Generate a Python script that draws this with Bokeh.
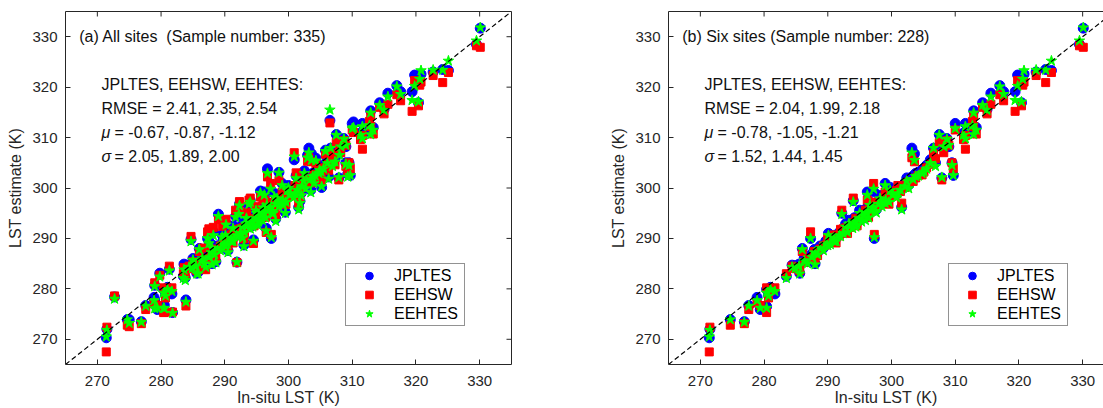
import math
from bokeh.plotting import figure
from bokeh.layouts import row
from bokeh.models import Range1d, LinearAxis, FixedTicker, Label, Legend, LegendItem
from bokeh.embed import file_html
from bokeh.resources import INLINE

tick_values = [270, 280, 290, 300, 310, 320, 330]
axis_limits = [265, 335]
one_to_one = [265, 335]

series_names = ["JPLTES", "EEHSW", "EEHTES"]
series_colors = ["#0000ff", "#ff0000", "#00ff00"]

# ---- six sites (panel b), in-situ LST and the three estimates ----
six_insitu = [
    330.1, 329.5, 325.1, 324.2, 322.7, 320.8, 320.6, 319.4, 320.4, 319.8,
    317.0, 317.6, 315.6, 314.3, 312.9, 315.0, 310.0, 311.6, 312.7, 311.3,
    312.9, 309.7, 309.5, 308.7, 309.0, 307.5, 307.9, 306.6, 308.2, 303.2,
    303.6, 299.0, 297.2, 296.2, 294.0, 292.2, 290.1, 287.3, 286.0, 284.4,
    285.6, 283.5, 288.0, 297.3, 271.5, 271.4, 274.7, 276.9, 277.6, 278.9,
    279.4, 280.4, 280.4, 281.0, 281.7, 280.7, 311.6, 313.3, 301.6,
    284.9, 285.5, 286.3, 286.8, 287.5, 287.9, 288.4, 288.8, 289.3, 289.7,
    290.4, 290.9, 291.3, 291.8, 292.4, 292.8, 293.1, 293.5, 293.9, 294.2,
    294.6, 294.9, 295.3, 295.7, 296.0, 296.4, 296.8, 297.1, 297.6, 298.0,
    298.5, 299.1, 299.6, 300.2, 300.8, 301.4, 302.1, 302.7, 303.4, 304.2,
    304.8, 305.5, 306.1, 306.9, 305.1,
    291.0, 292.0, 293.3, 294.4, 295.0, 295.9, 296.6, 297.4, 298.2, 299.0,
    299.8, 301.0, 302.4, 303.8, 290.0,
]
six_jpltes = [
    331.7, 328.5, 323.3, 323.5, 323.0, 322.6, 322.0, 319.1, 316.9, 322.4,
    320.3, 319.1, 318.8, 316.9, 315.3, 315.6, 312.8, 312.8, 311.8, 310.9,
    311.2, 302.5, 305.0, 309.8, 308.2, 310.6, 302.0, 307.9, 308.2, 307.9,
    306.8, 300.9, 299.3, 299.2, 297.5, 295.0, 291.0, 290.0, 288.0, 284.7,
    283.1, 282.5, 285.0, 290.0, 272.0, 270.3, 273.9, 273.5, 276.7, 278.3,
    275.9, 276.5, 279.9, 280.3, 279.0, 278.8, 310.5, 312.0, 296.2,
    284.6, 284.9, 286.1, 285.4, 286.9, 287.8, 287.2, 288.5, 288.1, 289.5,
    289.3, 290.6, 290.0, 291.2, 291.5, 292.9, 291.8, 293.0, 292.6, 294.1,
    293.2, 294.5, 294.0, 295.2, 295.9, 294.8, 296.1, 296.9, 295.7, 297.5,
    297.0, 298.2, 297.9, 299.3, 298.8, 300.2, 301.0, 300.6, 302.4, 303.1,
    303.6, 304.5, 305.6, 305.0, 303.9,
    289.8, 290.9, 293.6, 292.8, 295.6, 294.1, 297.2, 296.0, 298.5, 297.6,
    300.1, 299.4, 302.0, 302.9, 289.1,
]
six_eehsw = [
    327.9, 328.2, 322.9, 320.9, 322.3, 321.0, 320.4, 315.2, 316.3, 321.3,
    318.5, 317.3, 316.6, 316.0, 314.4, 314.7, 311.5, 310.4, 313.2, 309.6,
    312.2, 303.9, 305.0, 309.4, 308.5, 309.0, 301.6, 306.8, 307.0, 306.0,
    305.2, 299.2, 300.9, 297.6, 298.0, 295.6, 290.2, 291.3, 287.4, 284.5,
    283.6, 283.0, 285.9, 290.8, 272.4, 267.5, 272.8, 273.1, 275.9, 277.2,
    276.7, 275.3, 280.2, 279.6, 280.2, 278.2, 307.7, 310.7, 297.0,
    284.0, 284.2, 285.3, 285.9, 286.0, 287.4, 286.6, 287.9, 288.5, 288.7,
    289.9, 289.8, 289.1, 290.5, 291.9, 292.1, 291.0, 292.2, 293.1, 293.2,
    292.5, 293.7, 294.6, 294.3, 295.0, 294.2, 295.4, 296.0, 296.4, 296.6,
    297.5, 297.4, 296.8, 298.4, 299.5, 299.3, 300.1, 301.2, 301.3, 302.5,
    302.6, 304.0, 304.7, 305.8, 303.2,
    290.7, 291.8, 292.4, 294.0, 293.8, 295.6, 295.9, 297.2, 297.1, 298.4,
    298.9, 300.5, 300.9, 302.0, 290.0,
]
six_eehtes = [
    331.8, 329.2, 325.2, 323.4, 323.4, 323.3, 321.6, 317.4, 317.1, 320.2,
    320.1, 318.6, 318.1, 316.4, 314.9, 315.4, 311.8, 312.2, 312.4, 310.5,
    310.6, 302.5, 304.5, 309.7, 308.5, 310.5, 302.1, 307.9, 308.2, 307.0,
    305.5, 300.5, 299.8, 298.6, 297.2, 294.8, 290.6, 290.0, 287.8, 284.3,
    283.0, 282.1, 284.8, 290.2, 271.8, 270.5, 273.9, 273.4, 276.6, 277.7,
    276.2, 276.2, 279.2, 279.9, 279.5, 278.6, 309.8, 311.5, 295.7,
    284.1, 284.5, 285.6, 285.0, 286.3, 287.2, 286.8, 288.0, 287.6, 288.9,
    288.8, 290.1, 289.4, 290.6, 291.0, 292.3, 291.2, 292.5, 292.0, 293.4,
    292.7, 293.9, 293.3, 294.6, 295.2, 294.1, 295.5, 296.2, 295.1, 296.8,
    296.3, 297.6, 297.2, 298.6, 298.1, 299.6, 300.3, 299.9, 301.7, 302.4,
    302.9, 303.8, 304.9, 304.3, 303.2,
    289.4, 290.4, 292.9, 292.3, 295.0, 293.6, 296.6, 295.4, 297.9, 297.0,
    299.5, 298.9, 301.4, 302.3, 288.6,
]

# ---- remaining sites (only in panel a) ----
other_insitu = [
    306.5, 272.7, 284.7, 291.9, 279.8, 279.0, 281.3, 283.9, 280.5, 281.8,
    275.0, 283.8, 279.0, 289.0, 296.7, 298.5, 295.6, 292.3, 293.8, 291.7,
    294.9, 295.7, 290.2, 300.9, 309.3, 309.0, 303.0, 304.3, 310.2, 287.5,
    288.2, 286.5, 285.8, 287.0, 288.6, 290.5, 293.0, 294.5, 296.5, 298.0,
    299.5, 301.8, 303.5, 305.2, 306.3, 305.8, 304.9, 302.5, 300.0, 297.8,
    296.0, 293.4, 289.6, 288.0, 291.3, 295.2, 297.5, 299.2, 302.0, 304.0,
    307.3, 308.0, 301.2, 283.6, 285.0, 292.8, 294.0,
]
other_jpltes = [
    313.4, 278.4, 289.8, 285.3, 283.1, 280.7, 283.9, 277.8, 276.8, 275.3,
    273.9, 282.2, 277.8, 294.8, 303.8, 303.1, 299.4, 296.8, 296.2, 294.4,
    295.8, 294.6, 293.0, 305.6, 302.8, 305.0, 306.5, 305.9, 313.1, 289.5,
    291.3, 286.4, 283.3, 284.6, 285.4, 287.6, 288.7, 289.7, 292.0, 293.9,
    295.2, 297.4, 299.6, 300.1, 302.2, 307.5, 304.0, 303.4, 300.5, 298.9,
    296.6, 294.6, 290.7, 288.7, 292.5, 293.1, 295.3, 297.1, 299.0, 301.3,
    305.8, 306.9, 302.4, 284.9, 286.0, 290.5, 292.3,
]
other_eehsw = [
    312.9, 278.6, 290.4, 285.2, 282.7, 281.2, 284.5, 276.6, 275.3, 275.4,
    272.5, 282.6, 277.0, 293.8, 302.2, 301.5, 298.2, 297.3, 297.6, 295.6,
    296.3, 295.3, 293.8, 307.0, 303.2, 304.3, 305.3, 304.8, 311.0, 291.9,
    292.2, 288.1, 284.1, 283.8, 286.0, 288.5, 289.9, 289.0, 291.2, 294.7,
    296.8, 298.3, 301.0, 301.6, 303.5, 306.7, 302.0, 301.8, 299.0, 296.9,
    297.9, 295.2, 292.4, 287.2, 291.0, 294.0, 296.1, 298.2, 300.4, 302.7,
    304.6, 307.6, 303.0, 284.2, 285.4, 291.3, 293.1,
]
other_eehtes = [
    315.5, 278.0, 289.4, 285.3, 282.4, 280.5, 283.6, 277.4, 276.1, 275.2,
    273.2, 281.7, 276.1, 294.4, 302.9, 303.0, 299.0, 296.5, 296.8, 294.2,
    295.5, 294.9, 292.7, 306.2, 302.2, 304.7, 306.0, 305.4, 312.0, 289.0,
    290.6, 286.0, 283.0, 284.3, 285.2, 287.2, 288.4, 289.5, 291.5, 293.4,
    295.0, 297.0, 299.1, 300.3, 301.8, 307.3, 303.5, 302.9, 300.0, 298.2,
    296.1, 294.0, 290.3, 288.1, 292.0, 292.6, 294.9, 296.6, 298.5, 300.9,
    305.2, 306.5, 301.9, 283.8, 285.7, 290.1, 291.9,
]

panel_titles = ["(a) All sites \u00a0(Sample number: 335)", "(b) Six sites (Sample number: 228)"]
stats_header = "JPLTES, EEHSW, EEHTES:"
rmse_values = ["2.41, 2.35, 2.54", "2.04, 1.99, 2.18"]
mu_values = ["-0.67, -0.87, -1.12", "-0.78, -1.05, -1.21"]
sigma_values = ["2.05, 1.89, 2.00", "1.52, 1.44, 1.45"]
x_label = "In-situ LST (K)"
y_label = "LST estimate (K)"

FONT = "Liberation Sans"
AXC = "#262626"
NAN = float("nan")


def style_axis(ax):
    ax.ticker = FixedTicker(ticks=tick_values)
    ax.major_tick_in = 5
    ax.major_tick_out = 0
    ax.minor_tick_in = 0
    ax.minor_tick_out = 0
    ax.axis_line_color = AXC
    ax.axis_line_width = 1
    ax.major_tick_line_color = AXC
    ax.major_label_text_font = FONT
    ax.major_label_text_color = AXC
    ax.major_label_text_font_size = "15px"
    ax.axis_label_text_font = FONT
    ax.axis_label_text_font_style = "normal"
    ax.axis_label_text_font_size = "16px"
    ax.axis_label_text_color = AXC


def plain_edge(p, side):
    # box edge only: no ticks, no labels
    ax = LinearAxis(ticker=FixedTicker(ticks=[]), major_label_standoff=0,
                    major_tick_in=0, major_tick_out=0, minor_tick_in=0, minor_tick_out=0,
                    axis_line_color=AXC, axis_line_width=1)
    p.add_layout(ax, side)


def make_panel(idx, xs, jpl, hsw, hts, width, border_left, border_right, x_end, right_edge):
    p = figure(width=width, height=408,
               x_range=Range1d(axis_limits[0], x_end), y_range=Range1d(axis_limits[0], axis_limits[1]),
               output_backend="svg", toolbar_location=None,
               min_border_left=border_left, min_border_right=border_right,
               min_border_top=11, min_border_bottom=44)
    p.outline_line_color = None
    p.grid.visible = False
    p.background_fill_color = "white"
    p.border_fill_color = "white"

    p.xaxis.axis_label = x_label
    p.yaxis.axis_label = y_label
    for ax in p.xaxis + p.yaxis:
        style_axis(ax)
    p.xaxis.major_label_standoff = 11
    p.xaxis.axis_label_standoff = 0
    p.yaxis.major_label_standoff = 8
    p.yaxis.axis_label_standoff = 5

    plain_edge(p, "above")
    # inward tick marks on the top edge
    p.ray(x=tick_values, y=[axis_limits[1]] * len(tick_values), length=5, length_units="screen",
          angle=-math.pi / 2, line_color=AXC, line_width=1)
    if right_edge:
        plain_edge(p, "right")
        p.ray(x=[axis_limits[1]] * len(tick_values), y=tick_values, length=5, length_units="screen",
              angle=math.pi, line_color=AXC, line_width=1)

    p.scatter(xs, jpl, marker="circle", size=10, fill_color=series_colors[0], line_color=series_colors[0])
    p.scatter(xs, hsw, marker="square", size=8, fill_color=series_colors[1], line_color=series_colors[1])
    p.scatter(xs, hts, marker="star", size=11, fill_color=series_colors[2], line_color=series_colors[2])

    p.line(one_to_one, one_to_one, line_color="black", line_dash="5 3", line_width=1.2)

    # legend-only renderers (legend markers are drawn smaller than in the plot)
    lr = [
        p.scatter([NAN], [NAN], marker="circle", size=8, fill_color=series_colors[0], line_color=series_colors[0]),
        p.scatter([NAN], [NAN], marker="square", size=6, fill_color=series_colors[1], line_color=series_colors[1]),
        p.scatter([NAN], [NAN], marker="star", size=8, fill_color=series_colors[2], line_color=series_colors[2]),
    ]
    legend = Legend(items=[LegendItem(label=n, renderers=[r]) for n, r in zip(series_names, lr)],
                    location=(280, 38))
    legend.label_text_font = FONT
    legend.label_text_font_size = "16px"
    legend.label_text_color = "#000000"
    legend.glyph_width = 42
    legend.glyph_height = 19
    legend.label_height = 19
    legend.label_width = 68
    legend.label_standoff = 4
    legend.padding = 2
    legend.spacing = 0
    legend.margin = 0
    legend.border_line_color = AXC
    legend.border_line_width = 1
    legend.background_fill_color = "white"
    legend.background_fill_alpha = 1
    p.add_layout(legend)

    tc = "#111111"
    p.add_layout(Label(x=267.15, y=330.0, text=panel_titles[idx], text_font=FONT,
                       text_font_size="16px", text_baseline="middle", text_color=tc))
    p.add_layout(Label(x=270.66, y=320.55, text=stats_header, text_font=FONT,
                       text_font_size="16px", text_baseline="middle", text_color=tc))
    p.add_layout(Label(x=270.66, y=315.74, text="RMSE = " + rmse_values[idx], text_font=FONT,
                       text_font_size="16px", text_baseline="middle", text_color=tc))
    p.add_layout(Label(x=270.66, y=310.95, text="\u03bc", text_font=FONT, text_font_style="italic",
                       text_font_size="16px", text_baseline="middle", text_color=tc))
    p.add_layout(Label(x=270.66, y=310.95, x_offset=13, text="= " + mu_values[idx], text_font=FONT,
                       text_font_size="16px", text_baseline="middle", text_color=tc))
    p.add_layout(Label(x=270.66, y=306.16, text="\u03c3", text_font=FONT, text_font_style="italic",
                       text_font_size="16px", text_baseline="middle", text_color=tc))
    p.add_layout(Label(x=270.66, y=306.16, x_offset=13, text="= " + sigma_values[idx], text_font=FONT,
                       text_font_size="16px", text_baseline="middle", text_color=tc))
    return p


all_insitu = six_insitu + other_insitu
all_jpltes = six_jpltes + other_jpltes
all_eehsw = six_eehsw + other_eehsw
all_eehtes = six_eehtes + other_eehtes

px_per_unit = 446 / 70.0
right_end = axis_limits[0] + 435 / px_per_unit

pa = make_panel(0, all_insitu, all_jpltes, all_eehsw, all_eehtes, 590, 65, 79, axis_limits[1], True)
pb = make_panel(1, six_insitu, six_jpltes, six_eehsw, six_eehtes, 513, 78, 0, right_end, False)

layout = row(pa, pb)
open("out.html", "w").write(file_html(layout, INLINE))
